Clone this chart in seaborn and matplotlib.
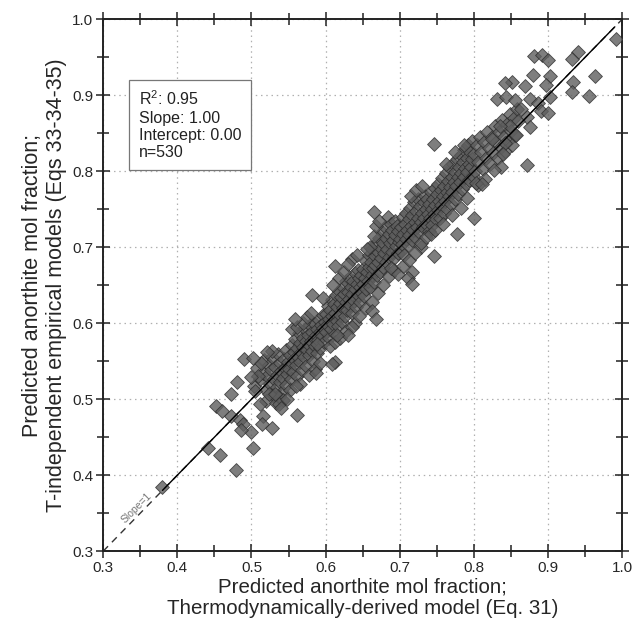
import numpy as np
import pandas as pd
import matplotlib
matplotlib.use("Agg")
import matplotlib.pyplot as plt
import seaborn as sns

# points, grouped by x range: (thermo model, empirical model)
pts_050 = [(0.503, 0.518), (0.508, 0.541), (0.512, 0.527), (0.515, 0.535), (0.517, 0.552),
           (0.519, 0.512), (0.521, 0.530), (0.523, 0.545), (0.525, 0.520), (0.526, 0.538),
           (0.528, 0.555), (0.529, 0.505), (0.531, 0.527), (0.532, 0.542), (0.534, 0.516),
           (0.535, 0.532), (0.536, 0.560), (0.538, 0.523), (0.539, 0.548), (0.540, 0.537),
           (0.541, 0.510), (0.543, 0.528), (0.544, 0.553), (0.545, 0.541), (0.546, 0.519),
           (0.547, 0.565), (0.548, 0.533), (0.549, 0.549), (0.520, 0.497), (0.533, 0.495),
           (0.537, 0.503), (0.542, 0.499), (0.527, 0.563), (0.513, 0.548), (0.509, 0.530)]

pts_055 = [(0.551, 0.540), (0.552, 0.558), (0.553, 0.527), (0.554, 0.571), (0.555, 0.548),
           (0.556, 0.536), (0.557, 0.562), (0.558, 0.553), (0.559, 0.579), (0.560, 0.545),
           (0.561, 0.567), (0.562, 0.531), (0.563, 0.556), (0.564, 0.587), (0.565, 0.574),
           (0.566, 0.549), (0.567, 0.562), (0.568, 0.538), (0.569, 0.581), (0.570, 0.569),
           (0.571, 0.556), (0.572, 0.592), (0.573, 0.577), (0.574, 0.544), (0.575, 0.565),
           (0.576, 0.584), (0.577, 0.571), (0.578, 0.558), (0.579, 0.597), (0.580, 0.576),
           (0.581, 0.563), (0.582, 0.589), (0.583, 0.550), (0.584, 0.581), (0.585, 0.570),
           (0.586, 0.599), (0.587, 0.585), (0.588, 0.561), (0.589, 0.592), (0.590, 0.578),
           (0.591, 0.604), (0.592, 0.589), (0.593, 0.567), (0.594, 0.598), (0.595, 0.583),
           (0.596, 0.611), (0.597, 0.594), (0.598, 0.575), (0.599, 0.602), (0.555, 0.592),
           (0.562, 0.595), (0.570, 0.600), (0.575, 0.608), (0.566, 0.520), (0.578, 0.532),
           (0.586, 0.540), (0.592, 0.548), (0.552, 0.512), (0.560, 0.517), (0.580, 0.614)]

pts_060 = [(0.600, 0.588), (0.601, 0.612), (0.602, 0.597), (0.603, 0.623), (0.604, 0.580),
           (0.605, 0.605), (0.606, 0.618), (0.607, 0.593), (0.608, 0.630), (0.609, 0.610),
           (0.610, 0.599), (0.611, 0.625), (0.612, 0.586), (0.613, 0.614), (0.614, 0.637),
           (0.615, 0.603), (0.616, 0.621), (0.617, 0.596), (0.618, 0.643), (0.619, 0.627),
           (0.620, 0.611), (0.621, 0.634), (0.622, 0.602), (0.623, 0.648), (0.624, 0.620),
           (0.625, 0.638), (0.626, 0.609), (0.627, 0.628), (0.628, 0.655), (0.629, 0.617),
           (0.630, 0.641), (0.631, 0.632), (0.632, 0.660), (0.633, 0.624), (0.634, 0.647),
           (0.635, 0.613), (0.636, 0.638), (0.637, 0.655), (0.638, 0.629), (0.639, 0.666),
           (0.640, 0.645), (0.641, 0.621), (0.642, 0.652), (0.643, 0.637), (0.644, 0.670),
           (0.645, 0.659), (0.646, 0.628), (0.647, 0.647), (0.648, 0.663), (0.649, 0.640),
           (0.606, 0.570), (0.612, 0.575), (0.620, 0.580), (0.628, 0.590), (0.640, 0.600),
           (0.645, 0.610), (0.618, 0.660), (0.625, 0.668), (0.610, 0.650), (0.636, 0.685),
           (0.642, 0.690)]

pts_065 = [(0.650, 0.652), (0.651, 0.671), (0.652, 0.636), (0.653, 0.660), (0.654, 0.682),
           (0.655, 0.645), (0.656, 0.667), (0.657, 0.656), (0.658, 0.690), (0.659, 0.674),
           (0.660, 0.648), (0.661, 0.681), (0.662, 0.663), (0.663, 0.697), (0.664, 0.672),
           (0.665, 0.654), (0.666, 0.688), (0.667, 0.676), (0.668, 0.705), (0.669, 0.663),
           (0.670, 0.694), (0.671, 0.680), (0.672, 0.712), (0.673, 0.668), (0.674, 0.699),
           (0.675, 0.686), (0.676, 0.720), (0.677, 0.674), (0.678, 0.705), (0.679, 0.692),
           (0.680, 0.726), (0.681, 0.680), (0.682, 0.712), (0.683, 0.698), (0.684, 0.740),
           (0.685, 0.687), (0.686, 0.718), (0.687, 0.705), (0.688, 0.731), (0.689, 0.694),
           (0.690, 0.723), (0.691, 0.709), (0.692, 0.686), (0.693, 0.735), (0.694, 0.716),
           (0.695, 0.701), (0.696, 0.728), (0.697, 0.692), (0.698, 0.721), (0.699, 0.707),
           (0.655, 0.620), (0.662, 0.628), (0.670, 0.640), (0.678, 0.650), (0.685, 0.662),
           (0.692, 0.670), (0.660, 0.700), (0.665, 0.715), (0.668, 0.728), (0.672, 0.735),
           (0.656, 0.697), (0.688, 0.672), (0.697, 0.665)]

pts_070 = [(0.700, 0.711), (0.701, 0.695), (0.702, 0.727), (0.703, 0.704), (0.704, 0.740),
           (0.705, 0.718), (0.706, 0.690), (0.707, 0.731), (0.708, 0.711), (0.709, 0.745),
           (0.710, 0.722), (0.711, 0.703), (0.712, 0.737), (0.713, 0.716), (0.714, 0.752),
           (0.715, 0.728), (0.716, 0.709), (0.717, 0.743), (0.718, 0.722), (0.719, 0.759),
           (0.720, 0.733), (0.721, 0.714), (0.722, 0.748), (0.723, 0.727), (0.724, 0.764),
           (0.725, 0.739), (0.726, 0.720), (0.727, 0.754), (0.728, 0.733), (0.729, 0.700),
           (0.730, 0.745), (0.731, 0.726), (0.732, 0.760), (0.733, 0.739), (0.734, 0.768),
           (0.735, 0.750), (0.736, 0.731), (0.737, 0.764), (0.738, 0.744), (0.739, 0.721),
           (0.740, 0.757), (0.741, 0.738), (0.742, 0.772), (0.743, 0.750), (0.744, 0.729),
           (0.745, 0.763), (0.746, 0.744), (0.747, 0.778), (0.748, 0.756), (0.749, 0.737),
           (0.705, 0.675), (0.712, 0.683), (0.720, 0.692), (0.728, 0.705), (0.735, 0.713),
           (0.742, 0.717), (0.748, 0.722), (0.715, 0.768), (0.722, 0.775), (0.730, 0.780)]

pts_075 = [(0.750, 0.770), (0.751, 0.749), (0.752, 0.783), (0.753, 0.761), (0.754, 0.738),
           (0.755, 0.775), (0.756, 0.755), (0.757, 0.791), (0.758, 0.767), (0.759, 0.745),
           (0.760, 0.781), (0.761, 0.761), (0.762, 0.797), (0.763, 0.773), (0.764, 0.750),
           (0.765, 0.787), (0.766, 0.767), (0.767, 0.805), (0.768, 0.779), (0.769, 0.757),
           (0.770, 0.793), (0.771, 0.773), (0.772, 0.810), (0.773, 0.786), (0.774, 0.764),
           (0.775, 0.799), (0.776, 0.780), (0.777, 0.816), (0.778, 0.792), (0.779, 0.770),
           (0.780, 0.806), (0.781, 0.786), (0.782, 0.821), (0.783, 0.798), (0.784, 0.777),
           (0.785, 0.812), (0.786, 0.792), (0.787, 0.828), (0.788, 0.804), (0.789, 0.783),
           (0.790, 0.818), (0.791, 0.799), (0.792, 0.834), (0.793, 0.810), (0.794, 0.788),
           (0.795, 0.825), (0.796, 0.805), (0.797, 0.840), (0.798, 0.816), (0.799, 0.794),
           (0.758, 0.730), (0.770, 0.742), (0.782, 0.752), (0.790, 0.765), (0.762, 0.810),
           (0.775, 0.825), (0.786, 0.835)]

pts_080 = [(0.800, 0.822), (0.802, 0.800), (0.804, 0.835), (0.806, 0.812), (0.808, 0.845),
           (0.810, 0.825), (0.812, 0.803), (0.814, 0.838), (0.816, 0.818), (0.818, 0.852),
           (0.820, 0.830), (0.822, 0.810), (0.824, 0.845), (0.826, 0.824), (0.828, 0.860),
           (0.830, 0.838), (0.832, 0.817), (0.834, 0.852), (0.836, 0.832), (0.838, 0.868),
           (0.840, 0.845), (0.842, 0.826), (0.844, 0.862), (0.846, 0.840), (0.848, 0.875),
           (0.850, 0.853), (0.852, 0.835), (0.854, 0.870), (0.856, 0.848), (0.858, 0.882),
           (0.805, 0.782), (0.815, 0.790), (0.803, 0.785), (0.811, 0.783)]

pts_high = [(0.992, 0.974), (0.941, 0.957), (0.932, 0.947), (0.881, 0.951), (0.892, 0.953),
            (0.900, 0.946), (0.963, 0.925), (0.933, 0.917), (0.932, 0.904), (0.955, 0.899),
            (0.903, 0.925), (0.902, 0.898), (0.897, 0.913), (0.879, 0.927), (0.869, 0.912),
            (0.852, 0.917), (0.842, 0.916), (0.831, 0.895), (0.843, 0.897), (0.856, 0.894),
            (0.876, 0.895), (0.886, 0.890), (0.891, 0.879), (0.900, 0.876), (0.864, 0.882),
            (0.872, 0.871), (0.859, 0.866), (0.849, 0.860), (0.875, 0.858), (0.857, 0.847),
            (0.872, 0.808), (0.835, 0.860), (0.824, 0.842), (0.842, 0.837), (0.839, 0.823),
            (0.837, 0.805), (0.827, 0.802)]

pts_mid_out = [(0.746, 0.836), (0.800, 0.738), (0.777, 0.717), (0.746, 0.688), (0.717, 0.667),
               (0.711, 0.659), (0.717, 0.651), (0.665, 0.746), (0.613, 0.675), (0.630, 0.678),
               (0.582, 0.637), (0.597, 0.633), (0.662, 0.616), (0.668, 0.606), (0.635, 0.595),
               (0.630, 0.584), (0.616, 0.584), (0.613, 0.549), (0.608, 0.546), (0.587, 0.535),
               (0.589, 0.573), (0.559, 0.605)]

pts_low = [(0.490, 0.553), (0.502, 0.554), (0.521, 0.562), (0.481, 0.523), (0.500, 0.529),
           (0.505, 0.511), (0.511, 0.494), (0.452, 0.491), (0.460, 0.485), (0.473, 0.507),
           (0.472, 0.478), (0.484, 0.473), (0.488, 0.468), (0.500, 0.457), (0.486, 0.460),
           (0.515, 0.478), (0.514, 0.468), (0.527, 0.462), (0.537, 0.494), (0.548, 0.500),
           (0.540, 0.489), (0.561, 0.479), (0.502, 0.436), (0.442, 0.436), (0.457, 0.426),
           (0.479, 0.407), (0.379, 0.385), (0.524, 0.507), (0.532, 0.507)]

groups = [pts_050, pts_055, pts_060, pts_065, pts_070, pts_075, pts_080,
          pts_high, pts_mid_out, pts_low]
df = pd.DataFrame([p for g in groups for p in g], columns=["thermo", "empirical"])

stats_text = "R$^2$: 0.95\nSlope: 1.00\nIntercept: 0.00\nn=530"
ticks = [0.3, 0.4, 0.5, 0.6, 0.7, 0.8, 0.9, 1.0]
minor_ticks = [0.35, 0.45, 0.55, 0.65, 0.75, 0.85, 0.95]

sns.set_style("ticks")
plt.rcParams["font.family"] = ["Liberation Sans", "DejaVu Sans"]
plt.rcParams["mathtext.fontset"] = "custom"
plt.rcParams["mathtext.rm"] = "Liberation Sans"

fig = plt.figure(figsize=(6.33, 6.2), dpi=100)
ax = fig.add_axes([0.163, 0.111, 0.82, 0.858])

ax.grid(True, color="#b0b0b0", linestyle=(0, (1.2, 3)), linewidth=0.9)
ax.set_axisbelow(True)

# 1:1 reference line and regression line
ax.plot([0.3, 1.0], [0.3, 1.0], color="#333333", linestyle=(0, (5, 4)), linewidth=1.0, zorder=2)
sns.scatterplot(data=df, x="thermo", y="empirical", marker="D", s=50,
                color="#5e5e5e", edgecolor="#2a2a2a", linewidth=0.6, alpha=0.8,
                ax=ax, zorder=3)
ax.plot([0.38, 0.99], [0.38, 0.99], color="black", linewidth=1.0, zorder=4)

ax.text(0.345, 0.357, "Slope=1", rotation=45, fontsize=7.5, color="#777777",
        ha="center", va="center")

ax.text(0.069, 0.868, stats_text, transform=ax.transAxes, fontsize=11.5, va="top",
        linespacing=1.2, color="#222222",
        bbox=dict(boxstyle="square,pad=0.62", facecolor="white", edgecolor="#777777", linewidth=0.9))

ax.set_xlim(0.3, 1.0)
ax.set_ylim(0.3, 1.0)
ax.set_xticks(ticks)
ax.set_yticks(ticks)
ax.set_xticklabels([f"{t:.1f}" for t in ticks])
ax.set_yticklabels([f"{t:.1f}" for t in ticks])
ax.set_xticks(minor_ticks, minor=True)
ax.set_yticks(minor_ticks, minor=True)
ax.tick_params(which="both", direction="inout", top=True, right=True, color="#222222", width=1.1)
ax.tick_params(which="major", length=10, labelsize=11, pad=2)
ax.tick_params(which="minor", length=8)
for sp in ax.spines.values():
    sp.set_linewidth(1.4)
    sp.set_color("#222222")

ax.set_xlabel("Predicted anorthite mol fraction;\nThermodynamically-derived model (Eq. 31)",
              fontsize=14.8, linespacing=1.15, labelpad=2)
ax.set_ylabel("Predicted anorthite mol fraction;\nT-independent empirical models (Eqs 33-34-35)",
              fontsize=15.5, linespacing=1.15, labelpad=4)

fig.savefig("out.png", dpi=100)
